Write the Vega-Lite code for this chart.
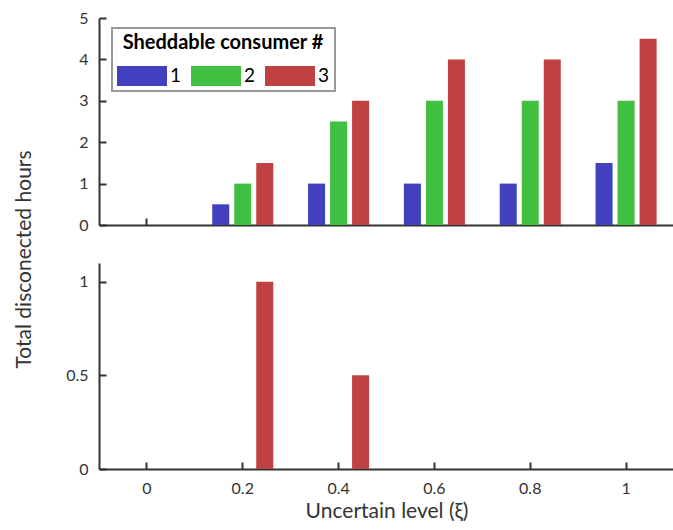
{
  "$schema": "https://vega.github.io/schema/vega-lite/v6.json",
  "padding": {"left": 13, "top": 10, "right": 0, "bottom": 0},
  "bounds": "flush",
  "config": {
    "font": "Lato",
    "view": {"stroke": null},
    "axis": {
      "domainColor": "#333333", "domainWidth": 2,
      "tickColor": "#333333", "tickWidth": 2, "tickSize": -7,
      "labelColor": "#333333", "labelFontSize": 16, "labelFont": "Lato",
      "titleColor": "#333333", "titleFontSize": 21, "titleFontWeight": "normal", "titleFont": "Lato",
      "grid": false
    },
    "legend": {"strokeWidth": 2},
    "concat": {"spacing": 38}
  },
  "datasets": {
    "top": [
      {"xi": 0, "c": "1", "v": 0}, {"xi": 0, "c": "2", "v": 0}, {"xi": 0, "c": "3", "v": 0},
      {"xi": 0.2, "c": "1", "v": 0.5}, {"xi": 0.2, "c": "2", "v": 1}, {"xi": 0.2, "c": "3", "v": 1.5},
      {"xi": 0.4, "c": "1", "v": 1}, {"xi": 0.4, "c": "2", "v": 2.5}, {"xi": 0.4, "c": "3", "v": 3},
      {"xi": 0.6, "c": "1", "v": 1}, {"xi": 0.6, "c": "2", "v": 3}, {"xi": 0.6, "c": "3", "v": 4},
      {"xi": 0.8, "c": "1", "v": 1}, {"xi": 0.8, "c": "2", "v": 3}, {"xi": 0.8, "c": "3", "v": 4},
      {"xi": 1, "c": "1", "v": 1.5}, {"xi": 1, "c": "2", "v": 3}, {"xi": 1, "c": "3", "v": 4.5}
    ],
    "bottom": [
      {"xi": 0, "c": "1", "v": 0}, {"xi": 0, "c": "2", "v": 0}, {"xi": 0, "c": "3", "v": 0},
      {"xi": 0.2, "c": "1", "v": 0}, {"xi": 0.2, "c": "2", "v": 0}, {"xi": 0.2, "c": "3", "v": 1},
      {"xi": 0.4, "c": "1", "v": 0}, {"xi": 0.4, "c": "2", "v": 0}, {"xi": 0.4, "c": "3", "v": 0.5},
      {"xi": 0.6, "c": "1", "v": 0}, {"xi": 0.6, "c": "2", "v": 0}, {"xi": 0.6, "c": "3", "v": 0},
      {"xi": 0.8, "c": "1", "v": 0}, {"xi": 0.8, "c": "2", "v": 0}, {"xi": 0.8, "c": "3", "v": 0},
      {"xi": 1, "c": "1", "v": 0}, {"xi": 1, "c": "2", "v": 0}, {"xi": 1, "c": "3", "v": 0}
    ]
  },
  "resolve": {"scale": {"color": "independent"}, "legend": {"color": "independent"}},
  "vconcat": [
    {
      "width": 575,
      "height": 207,
      "data": {"name": "top"},
      "mark": {"type": "bar"},
      "encoding": {
        "x": {
          "field": "xi", "type": "ordinal",
          "scale": {"paddingInner": 0, "paddingOuter": 0},
          "axis": {"labels": false, "title": null, "tickSize": -7}
        },
        "xOffset": {
          "field": "c", "type": "nominal",
          "scale": {"paddingInner": 0.227, "paddingOuter": 0.79}
        },
        "y": {
          "field": "v", "type": "quantitative",
          "scale": {"domain": [0, 5], "nice": false},
          "axis": {
            "values": [0, 1, 2, 3, 4, 5], "format": "~g", "labelPadding": 18,
            "labelFontSize": 16, "tickSize": -7,
            "title": "Total disconected hours", "titleFontSize": 21,
            "titleX": -75, "titleY": 241, "titleAngle": 270,
            "titleAlign": "center", "titleBaseline": "middle"
          }
        },
        "color": {
          "field": "c", "type": "nominal",
          "scale": {"domain": ["1", "2", "3"], "range": ["#4141BF", "#41BF41", "#BF4141"]},
          "legend": {
            "orient": "none", "legendX": 13, "legendY": 10,
            "direction": "horizontal", "columns": 3,
            "title": "Sheddable consumer #", "titleLimit": 0,
            "titleFont": "Lato", "titleFontSize": 20, "titleFontWeight": "bold", "titleColor": "black",
            "titleAnchor": "middle", "titlePadding": 13,
            "labelFont": "Lato", "labelFontSize": 19, "labelColor": "black", "labelOffset": 33,
            "symbolType": "M-1,-1H4V1H-1Z", "symbolSize": 400,
            "symbolStrokeWidth": 0, "symbolOpacity": 1,
            "strokeColor": "#999999", "fillColor": "white", "padding": 5,
            "columnPadding": 9
          }
        }
      }
    },
    {
      "width": 575,
      "height": 206,
      "data": {"name": "bottom"},
      "mark": {"type": "bar"},
      "encoding": {
        "x": {
          "field": "xi", "type": "ordinal",
          "scale": {"paddingInner": 0, "paddingOuter": 0},
          "axis": {"labelAngle": 0, "labelPadding": 18, "labelFontSize": 16, "tickSize": -7, "title": "Uncertain level (ξ)", "titleFontSize": 21, "titlePadding": 4}
        },
        "xOffset": {
          "field": "c", "type": "nominal",
          "scale": {"paddingInner": 0.227, "paddingOuter": 0.79}
        },
        "y": {
          "field": "v", "type": "quantitative",
          "scale": {"domain": [0, 1.1], "nice": false},
          "axis": {"values": [0, 0.5, 1], "format": "~g", "labelPadding": 18, "labelFontSize": 16, "tickSize": -7, "title": null}
        },
        "color": {
          "field": "c", "type": "nominal",
          "scale": {"domain": ["1", "2", "3"], "range": ["#4141BF", "#41BF41", "#BF4141"]},
          "legend": null
        }
      }
    }
  ]
}
